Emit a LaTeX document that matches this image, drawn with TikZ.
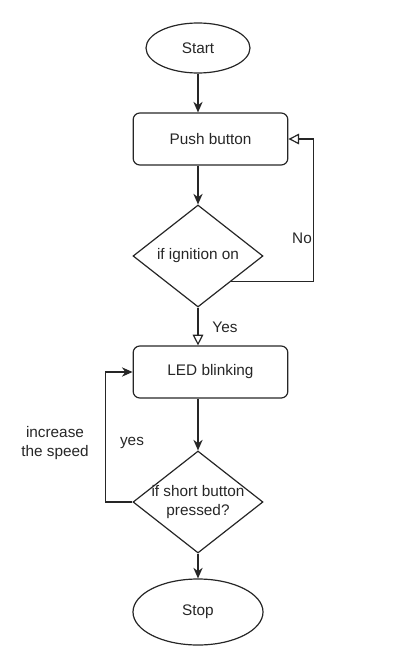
\documentclass[tikz,border=0pt]{standalone}
\usepackage{fontspec}
\setmainfont{Liberation Sans}
\usetikzlibrary{shapes.geometric,arrows.meta}

\begin{document}
\begin{tikzpicture}[x=0.75pt, y=-0.75pt, line width=0.9pt, draw=black!85, text=black!85,
        font=\fontsize{11.5pt}{14pt}\selectfont,
        >={Stealth[length=8pt,width=7pt]},
        hollow/.style = {-{Triangle[open,length=8pt,width=8pt]}},
        term/.style = {draw, ellipse, inner sep=0pt},
        proc/.style = {draw, rectangle, rounded corners=5pt, minimum width=116pt, minimum height=39pt},
        dec/.style = {draw, diamond, inner sep=0pt, minimum width=97.5pt, minimum height=76.5pt}]
        \useasboundingbox (0,0) rectangle (410,671);

        \node[term, minimum width=78pt, minimum height=37.5pt] (start) at (198,48) {Start};
        \node[proc] (push) at (210.5,139) {Push button};
        \node[dec] (ign) at (198,256) {if ignition on};
        \node[proc] (led) at (210.5,372) {LED blinking};
        \node[dec, label={[align=center]center:if short button\\pressed?}] (short) at (198,502) {};
        \node[term, minimum width=97.5pt, minimum height=49.5pt] (stop) at (198,612) {Stop};

        \node (no) at (302,238) {No};
        \node (yes) at (225,327) {Yes};
        \node (yes2) at (132,443) {yes};
        \node[align=center] (speed) at (55,443) {increase\\the speed};

        \draw[->] (start) -- (start |- push.north);
        \draw[->] (push.south -| ign.north) -- (ign.north);
        \draw[hollow] (ign.south east) -| ([xshift=19pt]push.east) -- (push.east);
        \draw[hollow] (ign.south) -- (ign.south |- led.north);
        \draw[->] (led.south -| short.north) -- (short.north);
        \draw[->] (short.west) -- ++(-27,0) |- (led.west);
        \draw[->] (short.south) -- (stop.north);

    \end{tikzpicture}
\end{document}
